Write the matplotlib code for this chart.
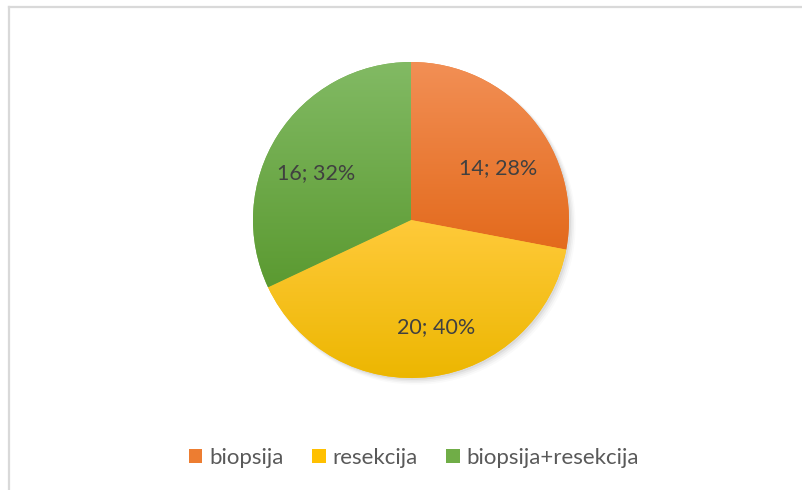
import numpy as np
import matplotlib
matplotlib.use("Agg")
import matplotlib.pyplot as plt
from matplotlib.colors import LinearSegmentedColormap
from matplotlib.patches import Patch, Circle
from matplotlib.lines import Line2D

categories = ["biopsija", "resekcija", "biopsija+resekcija"]
values = [14, 20, 16]
percents = [28, 40, 32]
top_colors = ["#F28F55", "#FFCA3A", "#82BA64"]
bottom_colors = ["#E36A1C", "#ECB600", "#5B9A31"]
mid_colors = ["#ED7D31", "#FFC000", "#70AD47"]
label_pos = [(0.554, 0.329), (0.158, -0.677), (-0.601, 0.297)]

plt.rcParams['font.family'] = ['Lato', 'DejaVu Sans']

W, H = 802, 490
fig = plt.figure(figsize=(W / 100, H / 100), dpi=100)
fig.patch.set_facecolor("white")

# border lines (top and left)
fig.add_artist(Line2D([9 / W, 1], [1 - 7 / H, 1 - 7 / H], color="#D9D9D9", lw=1.6,
                      transform=fig.transFigure))
fig.add_artist(Line2D([9 / W, 9 / W], [0, 1 - 7 / H], color="#D9D9D9", lw=1.6,
                      transform=fig.transFigure))

cx, cy, r = 411, 220, 158
m = 1.1
ax = fig.add_axes([(cx - r * m) / W, (H - cy - r * m) / H, 2 * r * m / W, 2 * r * m / H])

# subtle shadow
for i, a in enumerate([0.05, 0.04, 0.03, 0.02]):
    ax.add_patch(Circle((0.012 + 0.006 * i, -0.012 - 0.006 * i), 1.0 + 0.004 * i,
                        color="black", alpha=a, lw=0, zorder=0))

wedges, _ = ax.pie(values, startangle=90, counterclock=False, radius=1.0,
                   colors=mid_colors, wedgeprops=dict(linewidth=0))

for w, tc, bc in zip(wedges, top_colors, bottom_colors):
    verts = w.get_path().vertices
    trans = w.get_patch_transform()
    pts = trans.transform(verts)
    x0, x1 = pts[:, 0].min(), pts[:, 0].max()
    y0, y1 = pts[:, 1].min(), pts[:, 1].max()
    cmap = LinearSegmentedColormap.from_list("g", [bc, tc])
    grad = np.linspace(0, 1, 256).reshape(-1, 1)
    im = ax.imshow(grad, cmap=cmap, extent=[x0, x1, y0, y1], origin="lower",
                   aspect="auto", zorder=2)
    im.set_clip_path(w)

ax.set_xlim(-m, m)
ax.set_ylim(-m, m)
ax.set_aspect("auto")
ax.axis("off")

for v, p, (lx, ly) in zip(values, percents, label_pos):
    ax.text(lx, ly, f"{v}; {p}%", ha="center", va="center", fontsize=15.5,
            color="#404040", zorder=5)

handles = [Patch(facecolor=c, edgecolor="none") for c in mid_colors]
leg = fig.legend(handles, categories, loc="center", bbox_to_anchor=(414 / W, 1 - 458 / H),
                 ncol=3, frameon=False, fontsize=16, handlelength=0.6, handleheight=0.6,
                 handletextpad=0.3, columnspacing=1.3)
for t in leg.get_texts():
    t.set_color("#595959")

fig.savefig("out.png", dpi=100, facecolor="white")
